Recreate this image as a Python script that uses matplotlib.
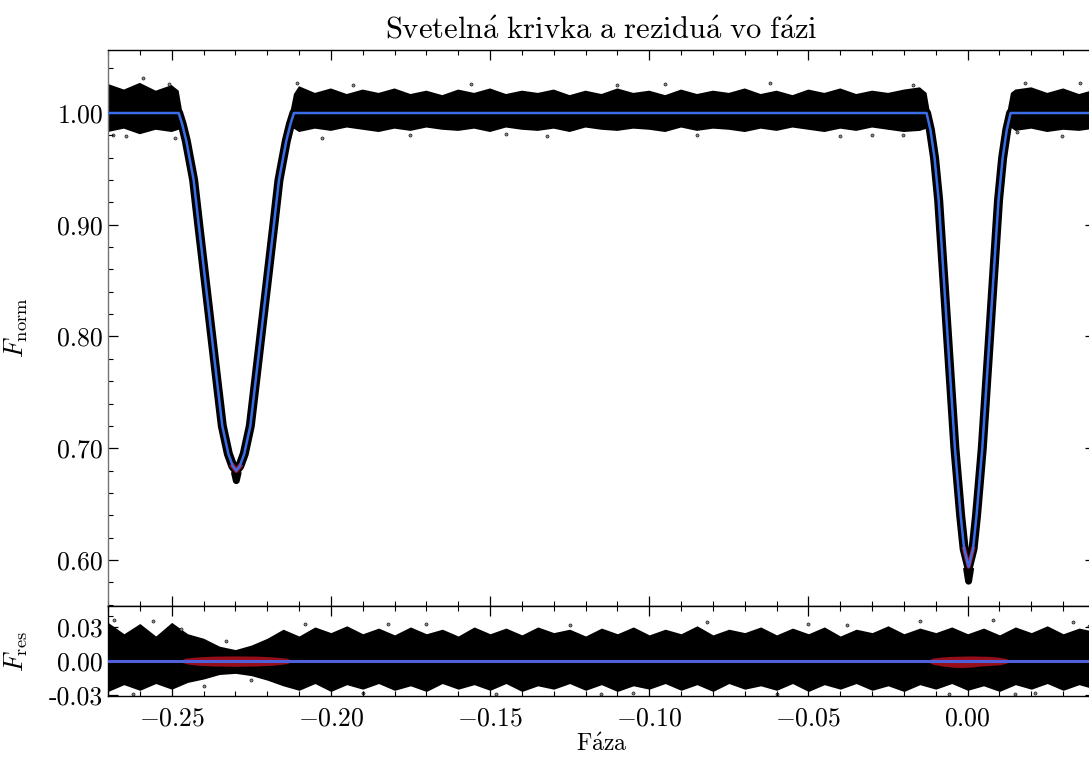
import numpy as np
import matplotlib
matplotlib.use('Agg')
import matplotlib.pyplot as plt
from matplotlib.ticker import MultipleLocator

plt.rcParams['font.family'] = 'serif'
plt.rcParams['font.serif'] = ['cmr10']
plt.rcParams['mathtext.fontset'] = 'cm'
plt.rcParams['axes.unicode_minus'] = False
plt.rcParams['axes.linewidth'] = 1.0

nan = np.nan

# model light curve (blue)
model_phase = [-0.270, -0.2478, -0.2467, -0.2454, -0.2431, -0.2415, -0.2374, -0.2358, -0.2341, -0.2322,
               -0.2308, -0.2297, -0.2286, -0.2272, -0.2253, -0.2236, -0.2220, -0.2179, -0.2163, -0.2140,
               -0.2127, -0.2116, -0.0129, -0.0117, -0.0104, -0.0091, -0.0063, -0.0040, -0.0022, -0.0011,
               0.0003, 0.0017, 0.0028, 0.0046, 0.0069, 0.0097, 0.0110, 0.0123, 0.0135, 0.040]
model_flux = [1.000, 1.000, 0.990, 0.975, 0.940, 0.900, 0.800, 0.761, 0.720, 0.695,
              0.684, 0.680, 0.684, 0.695, 0.720, 0.761, 0.800, 0.900, 0.940, 0.975,
              0.990, 1.000, 1.000, 0.985, 0.960, 0.922, 0.800, 0.700, 0.640, 0.610,
              0.594, 0.610, 0.640, 0.700, 0.800, 0.922, 0.960, 0.985, 1.000, 1.000]

# out-of-eclipse scatter band of the measured flux (upper / lower edge)
band_phase = [-0.270, -0.265, -0.260, -0.255, -0.250, -0.2478, -0.2466, nan,
              -0.2128, -0.2116,
              -0.210, -0.205, -0.200, -0.195, -0.190, -0.185, -0.180, -0.175, -0.170, -0.165,
              -0.160, -0.155, -0.150, -0.145, -0.140, -0.135, -0.130, -0.125, -0.120, -0.115,
              -0.110, -0.105, -0.100, -0.095, -0.090, -0.085, -0.080, -0.075, -0.070, -0.065,
              -0.060, -0.055, -0.050, -0.045, -0.040, -0.035, -0.030, -0.025, -0.020, -0.015,
              -0.0129, -0.0118, nan,
              0.0124, 0.0136, 0.015, 0.020, 0.025, 0.030, 0.035, 0.040]
band_upper = [1.026, 1.021, 1.027, 1.020, 1.025, 1.020, 1.000, nan,
              1.000, 1.017,
              1.024, 1.018, 1.022, 1.017, 1.021, 1.018, 1.022, 1.017, 1.020, 1.016,
              1.021, 1.018, 1.022, 1.017, 1.020, 1.018, 1.021, 1.016, 1.020, 1.017,
              1.022, 1.018, 1.020, 1.016, 1.021, 1.017, 1.020, 1.018, 1.022, 1.017,
              1.020, 1.016, 1.021, 1.018, 1.022, 1.017, 1.020, 1.018, 1.021, 1.023,
              1.018, 1.000, nan,
              1.000, 1.018, 1.021, 1.023, 1.018, 1.022, 1.017, 1.021]
band_lower = [0.983, 0.986, 0.981, 0.985, 0.983, 0.985, 0.985, nan,
              0.985, 0.986,
              0.983, 0.986, 0.984, 0.987, 0.985, 0.983, 0.986, 0.984, 0.987, 0.985,
              0.984, 0.986, 0.983, 0.987, 0.985, 0.984, 0.986, 0.983, 0.987, 0.985,
              0.984, 0.986, 0.985, 0.983, 0.987, 0.984, 0.986, 0.985, 0.983, 0.986,
              0.984, 0.987, 0.985, 0.983, 0.986, 0.984, 0.987, 0.985, 0.983, 0.984,
              0.986, 0.985, nan,
              0.985, 0.987, 0.984, 0.986, 0.983, 0.985, 0.984, 0.986]

# deepest measured points below the model minima
dip_phase = [-0.2301, -0.2297, -0.2293, nan, -0.0002, 0.0003, 0.0008]
dip_flux = [0.676, 0.671, 0.676, nan, 0.590, 0.581, 0.590]

top_out_phase = [-0.2685, -0.2645, -0.2590, -0.2509, -0.2488, -0.2107, -0.2028, -0.1930, -0.1750, -0.1560,
                 -0.1320, -0.1100, -0.0850, -0.0620, -0.0400, -0.0204, -0.0173, 0.0154, 0.0179, 0.0296,
                 0.0352, -0.1450, -0.0950, -0.0300]
top_out_flux = [0.980, 0.979, 1.031, 1.026, 0.978, 1.027, 0.978, 1.025, 0.980, 1.026,
                0.979, 1.025, 0.980, 1.027, 0.979, 0.980, 1.025, 0.983, 1.027, 0.979,
                1.027, 0.981, 1.026, 0.980]

# residuals
res_phase = [-0.270, -0.265, -0.260, -0.255, -0.250, -0.245, -0.240, -0.235, -0.230, -0.225,
             -0.220, -0.215, -0.210, -0.205, -0.200, -0.195, -0.190, -0.185, -0.180, -0.175,
             -0.170, -0.165, -0.160, -0.155, -0.150, -0.145, -0.140, -0.135, -0.130, -0.125,
             -0.120, -0.115, -0.110, -0.105, -0.100, -0.095, -0.090, -0.085, -0.080, -0.075,
             -0.070, -0.065, -0.060, -0.055, -0.050, -0.045, -0.040, -0.035, -0.030, -0.025,
             -0.020, -0.015, -0.010, -0.005, 0.000, 0.005, 0.010, 0.015, 0.020, 0.025,
             0.030, 0.035, 0.040]
res_upper = [0.034, 0.024, 0.033, 0.022, 0.034, 0.024, 0.020, 0.013, 0.010, 0.014,
             0.020, 0.028, 0.022, 0.030, 0.025, 0.031, 0.024, 0.029, 0.023, 0.030,
             0.024, 0.028, 0.022, 0.030, 0.024, 0.029, 0.023, 0.030, 0.025, 0.028,
             0.022, 0.029, 0.024, 0.030, 0.023, 0.028, 0.024, 0.031, 0.023, 0.028,
             0.025, 0.030, 0.023, 0.029, 0.024, 0.030, 0.022, 0.028, 0.025, 0.031,
             0.024, 0.029, 0.025, 0.030, 0.024, 0.029, 0.023, 0.030, 0.025, 0.031,
             0.024, 0.029, 0.026]
res_lower = [-0.027, -0.021, -0.026, -0.020, -0.025, -0.019, -0.016, -0.012, -0.011, -0.013,
             -0.017, -0.022, -0.026, -0.020, -0.027, -0.021, -0.025, -0.020, -0.026, -0.022,
             -0.027, -0.020, -0.025, -0.021, -0.026, -0.020, -0.027, -0.022, -0.025, -0.020,
             -0.026, -0.021, -0.027, -0.022, -0.025, -0.020, -0.026, -0.021, -0.027, -0.020,
             -0.025, -0.022, -0.026, -0.020, -0.027, -0.021, -0.025, -0.020, -0.026, -0.022,
             -0.027, -0.021, -0.025, -0.020, -0.026, -0.022, -0.027, -0.021, -0.025, -0.020,
             -0.026, -0.021, -0.025]

res_out_phase = [-0.2680, -0.2620, -0.2560, -0.2470, -0.2330, -0.2250, -0.2080, -0.1900, -0.1700, -0.1480,
                 -0.1250, -0.1050, -0.0820, -0.0600, -0.0380, -0.0150, -0.0060, 0.0080, 0.0210, 0.0330,
                 -0.2400, -0.1820, -0.1150, -0.0500, 0.0150, 0.0380]
res_out_res = [0.036, -0.029, 0.035, 0.028, 0.018, -0.017, 0.033, -0.028, 0.033, -0.029,
               0.032, -0.028, 0.034, -0.029, 0.032, 0.035, -0.029, 0.036, -0.028, 0.034,
               -0.022, 0.033, -0.029, 0.033, -0.029, 0.031]

# red residual points inside the eclipses
sec_red_phase = [-0.2478, -0.2455, -0.2420, -0.2370, -0.2300, -0.2230, -0.2180, -0.2140, -0.2116]
sec_red_upper = [0.0, 0.0025, 0.0035, 0.0042, 0.0044, 0.0042, 0.0035, 0.0025, 0.0]
sec_red_lower = [0.0, -0.0025, -0.0038, -0.0045, -0.0048, -0.0045, -0.0038, -0.0025, 0.0]
pri_red_phase = [-0.0129, -0.0110, -0.0080, -0.0050, -0.0020, 0.0010, 0.0040, 0.0070, 0.0100, 0.0120, 0.0135]
pri_red_upper = [0.0, 0.0025, 0.0035, 0.0040, 0.0042, 0.0044, 0.0042, 0.0040, 0.0032, 0.0022, 0.0]
pri_red_lower = [0.0, -0.0030, -0.0045, -0.0055, -0.0058, -0.0055, -0.0045, -0.0040, -0.0035, -0.0022, 0.0]

xticks = [-0.25, -0.20, -0.15, -0.10, -0.05, 0.00]
xtick_labels = [r'$-0.25$', r'$-0.20$', r'$-0.15$', r'$-0.10$', r'$-0.05$', r'$0.00$']
yticks_top = [0.60, 0.70, 0.80, 0.90, 1.00]
ytick_labels_top = ['0.60', '0.70', '0.80', '0.90', '1.00']
yticks_res = [-0.03, 0.00, 0.03]
ytick_labels_res = ['-0.03', '0.00', '0.03']

fig = plt.figure(figsize=(10.89, 7.60), dpi=100)
ax = fig.add_axes([0.09917, 0.20263, 0.90634, 0.73158])
axr = fig.add_axes([0.09917, 0.08421, 0.90634, 0.11842], sharex=ax)

# top panel
ax.fill_between(band_phase, band_lower, band_upper, color='black', lw=0, zorder=1)
ax.plot(model_phase, model_flux, color='black', lw=6.5, solid_joinstyle='round', zorder=1)
ax.plot(dip_phase, dip_flux, color='black', lw=5, zorder=1)
ax.scatter(top_out_phase, top_out_flux, s=5, facecolor='0.55', edgecolor='black', lw=0.4, zorder=1)
ax.plot(model_phase[10:13], model_flux[10:13], color='#a01020', lw=3.5, zorder=2)
ax.plot(model_phase[29:32], model_flux[29:32], color='#a01020', lw=3, zorder=2)
ax.plot(model_phase, model_flux, color='#3a6ee8', lw=1.8, zorder=3)

ax.set_xlim(-0.27, 0.04)
ax.set_ylim(0.5588, 1.0564)
ax.set_yticks(yticks_top)
ax.set_yticklabels(ytick_labels_top)
ax.yaxis.set_minor_locator(MultipleLocator(0.02))
ax.tick_params(labelbottom=False)
ax.spines['left'].set_color('0.45')
ax.set_ylabel(r'$F_{\mathrm{norm}}$', fontsize=19)
ax.yaxis.set_label_coords(-0.079, 0.5)
ax.set_title(r'$\mathrm{Sveteln\acute{a}\ krivka\ a\ rezidu\acute{a}\ vo\ f\acute{a}zi}$',
             fontsize=22, pad=8)

# residual panel
axr.fill_between(res_phase, res_lower, res_upper, color='black', lw=0, zorder=1)
axr.scatter(res_out_phase, res_out_res, s=5, facecolor='0.55', edgecolor='black', lw=0.4, zorder=1)
axr.fill_between(sec_red_phase, sec_red_lower, sec_red_upper, color='#a8101c', alpha=0.9, lw=0, zorder=2)
axr.fill_between(pri_red_phase, pri_red_lower, pri_red_upper, color='#a8101c', alpha=0.9, lw=0, zorder=2)
axr.axhline(0.0, color='#5060d8', lw=2.2, zorder=3)

axr.set_ylim(-0.031, 0.0485)
axr.set_yticks(yticks_res)
axr.set_yticklabels(ytick_labels_res)
axr.yaxis.set_minor_locator(MultipleLocator(0.01))
axr.set_xticks(xticks)
axr.set_xticklabels(xtick_labels)
axr.xaxis.set_minor_locator(MultipleLocator(0.01))
axr.set_ylabel(r'$F_{\mathrm{res}}$', fontsize=19)
axr.yaxis.set_label_coords(-0.079, 0.5)
axr.set_xlabel(r'$\mathrm{F\acute{a}za}$', fontsize=17)
axr.xaxis.set_label_coords(0.5, -0.42)

for a in (ax, axr):
    a.tick_params(which='both', direction='in', top=True, right=True, labelsize=18.5)
    a.tick_params(which='major', length=7, width=0.9)
    a.tick_params(which='minor', length=3.5, width=0.8)
    a.tick_params(axis='x', pad=8)

fig.savefig('out.png', dpi=100)
